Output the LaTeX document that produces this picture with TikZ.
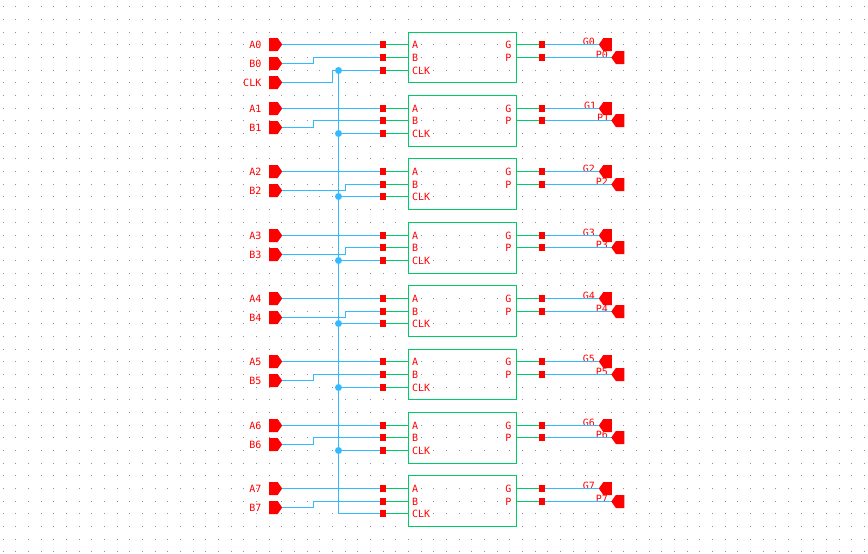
\documentclass[tikz,border=0pt]{standalone}
\usepackage{fontspec}
\setmonofont{DejaVu Sans Mono}
\usetikzlibrary{shapes.symbols}
\definecolor{wireblue}{HTML}{33BBFF}
\definecolor{wiregreen}{HTML}{00CC66}
\definecolor{griddot}{HTML}{8C8CA8}

\begin{document}
\begin{tikzpicture}[
  x=1pt, y=-1pt,
  wire/.style={wireblue, line width=1.2pt},
  stub/.style={wiregreen, line width=1.2pt},
  block/.style={draw=wiregreen, line width=1.2pt, rectangle, minimum width=108pt, inner sep=0pt},
  term/.style={fill=red, rectangle, minimum size=6.5pt, inner sep=0pt},
  junction/.style={fill=wireblue, circle, minimum size=7pt, inner sep=0pt},
  pinin/.style={fill=red, signal, signal to=east, signal pointer angle=110, minimum width=13pt, minimum height=13pt, inner sep=0pt, anchor=west},
  pinout/.style={fill=red, signal, signal to=west, signal pointer angle=110, minimum width=13pt, minimum height=13pt, inner sep=0pt, anchor=east},
  lab/.style={text=red, font=\ttfamily\fontsize{10}{10}\selectfont, inner sep=0pt},
]
\useasboundingbox (0,0) rectangle (868,554);

\foreach \gx in {0,...,68}
  \foreach \gy in {0,...,43} {
    \ifnum\numexpr\gx*100+\gy\relax=603 \else
      \fill[griddot] ({floor(3+12.67*\gx)},{floor(6.95+12.67*\gy)}) rectangle ++(1,1);
    \fi
  }

% row / jog of B / x of G label
\foreach \i/\xjog/\xgate in {0/313.5/582.7,1/313.5/584,2/345.5/582.7,3/345.5/582.7,4/345.5/582.7,5/313.5/582.7,6/313.5/582.7,7/313.5/582.7} {
  \pgfmathsetmacro{\ytop}{floor(6.95+12.67*(2+5*\i))}
  \pgfmathsetmacro{\ybot}{floor(6.95+12.67*(6+5*\i))}
  \pgfmathsetmacro{\ya}{floor(6.95+12.67*(3+5*\i))+.5}
  \pgfmathsetmacro{\yb}{floor(6.95+12.67*(4+5*\i))+.5}
  \pgfmathsetmacro{\yc}{floor(6.95+12.67*(5+5*\i))+.5}
  \pgfmathsetmacro{\ypin}{floor(6.95+12.67*(4.5+5*\i))+.5}
  \pgfmathsetmacro{\xpin}{\xgate+13}
  \pgfmathsetmacro{\hblk}{\ybot-\ytop}

  \node (blk\i) [block, minimum height=\hblk pt] at (462.5,{(\ytop+\ybot)/2+.5}) {};
  \node (sa\i) [term] at (383,\ya) {};
  \node (sb\i) [term] at (383,\yb) {};
  \node (sc\i) [term] at (383,\yc) {};
  \node (sg\i) [term] at (542,\ya) {};
  \node (sp\i) [term] at (542,\yb) {};

  \node (a\i) [pinin] at (269,\ya) {};
  \node (b\i) [pinin] at (269,\ypin) {};
  \node (g\i) [pinout] at (612,\ya) {};
  \node (p\i) [pinout] at (624.5,\yb) {};
  \coordinate (jog\i) at (\xjog,\ypin);

  \node (la\i) [lab, anchor=east] at (261.5,\ya) {A\i};
  \node (lb\i) [lab, anchor=east] at (261.5,\ypin) {B\i};
  \node (ta\i) [lab, anchor=west] at (412,\ya) {A};
  \node (tb\i) [lab, anchor=west] at (412,\yb) {B};
  \node (tc\i) [lab, anchor=west] at (412,\yc) {CLK};
  \node (tg\i) [lab, anchor=east] at (511.5,\ya) {G};
  \node (tp\i) [lab, anchor=east] at (511.5,\yb) {P};
  \node (lg\i) [lab, anchor=west] at (\xgate,\ya-3) {G\i};
  \node (lp\i) [lab, anchor=west] at (\xpin,\yb-3) {P\i};

  \draw[wire] (a\i.east) -- (sa\i.west);
  \draw[wire] (b\i.east) -- (jog\i) |- (sb\i.west);
  \draw[wire] (sg\i.east) -- (g\i.west);
  \draw[wire] (sp\i.east) -- (p\i.west);
  \draw[stub] (sa\i.east) -- (blk\i.west |- sa\i.east);
  \draw[stub] (sb\i.east) -- (blk\i.west |- sb\i.east);
  \draw[stub] (sc\i.east) -- (blk\i.west |- sc\i.east);
  \draw[stub] (blk\i.east |- sg\i.west) -- (sg\i.west);
  \draw[stub] (blk\i.east |- sp\i.west) -- (sp\i.west);
  \ifnum\i<7
    \node (j\i) [junction] at (338.5,\yc) {};
    \draw[wire] (j\i.center) -- (sc\i.west);
  \else
    \coordinate (j\i) at (338.5,\yc);
  \fi
}
\draw[wire] (j0.center) -- (j7) -- (sc7.west);

\node (clk) [pinin] at (269,82.5) {};
\node (lclk) [lab, anchor=east] at (261.5,82.5) {CLK};
\coordinate (jogclk) at (332.5,82.5);
\draw[wire] (clk.east) -- (jogclk) |- (j0.center);
\end{tikzpicture}
\end{document}
